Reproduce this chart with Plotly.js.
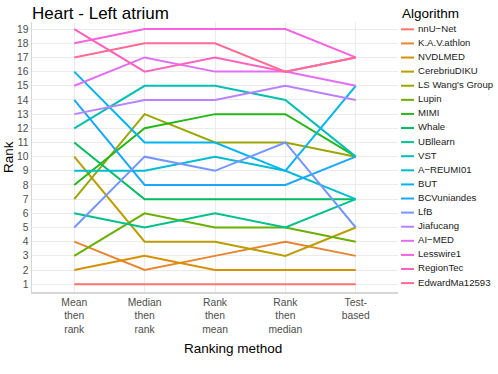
<!DOCTYPE html>
<html>
<head>
<meta charset="utf-8">
<script src="https://cdn.plot.ly/plotly-3.0.1.min.js"></script>
<style>
  html, body { margin: 0; padding: 0; background: #fff; }
  #chart { width: 498px; height: 374px; }
</style>
</head>
<body>
<div id="chart"></div>
<script>
// ranking methods (x categories) and their tick labels
const methods = ['Mean then rank', 'Median then rank', 'Rank then mean', 'Rank then median', 'Test-based'];
const methodLabels = ['Mean<br>then<br>rank', 'Median<br>then<br>rank', 'Rank<br>then<br>mean', 'Rank<br>then<br>median', 'Test-<br>based'];

const algorithms = ['nnU\u2212Net', 'K.A.V.athlon', 'NVDLMED', 'CerebriuDIKU', "LS Wang's Group", 'Lupin', 'MIMI',
  'Whale', 'UBllearn', 'VST', 'A\u2212REUMI01', 'BUT', 'BCVuniandes', 'LfB', 'Jiafucang', 'AI\u2212MED',
  'Lesswire1', 'RegionTec', 'EdwardMa12593'];

// rank of each algorithm under each method (same order as algorithms)
const meanThenRank   = [1, 4, 2, 10, 7, 3, 8, 11, 6, 12, 9, 16, 14, 5, 13, 15, 18, 19, 17];
const medianThenRank = [1, 2, 3, 4, 13, 6, 12, 7, 5, 15, 9, 11, 8, 10, 14, 17, 19, 16, 18];
const rankThenMean   = [1, 3, 2, 4, 11, 5, 13, 7, 6, 15, 10, 11, 8, 9, 14, 16, 19, 17, 18];
const rankThenMedian = [1, 4, 2, 3, 11, 5, 13, 7, 5, 14, 9, 9, 8, 11, 15, 16, 19, 16, 16];
const testBased      = [1, 3, 2, 5, 10, 4, 10, 7, 7, 10, 7, 15, 10, 5, 14, 15, 17, 17, 17];

// ggplot-like hue palette for 19 groups
const colors = ['#F8766D', '#E98430', '#D69100', '#BB9D00', '#9BA700', '#6BB000', '#27B719', '#00BC5F',
  '#00C08D', '#00C0B3', '#00BCD3', '#00B4EF', '#1AA8FD', '#7696FF', '#BA81FF', '#E06FF6',
  '#F763DF', '#FE62BF', '#FF6C93'];

const font = 'Liberation Sans, Arial, sans-serif';
const traces = [];

algorithms.forEach((name, i) => {
  traces.push({
    x: methods,
    y: [meanThenRank[i], medianThenRank[i], rankThenMean[i], rankThenMedian[i], testBased[i]],
    type: 'scatter',
    mode: 'lines',
    name: name,
    line: { color: colors[i], width: 2 },
    hoverinfo: 'skip',
    showlegend: false
  });
});

// hand-made legend on its own small axis so the key spacing matches
algorithms.forEach((name, i) => {
  traces.push({
    x: [1, 14],
    y: [i, i],
    xaxis: 'x2',
    yaxis: 'y2',
    type: 'scatter',
    mode: 'lines',
    line: { color: colors[i], width: 2 },
    hoverinfo: 'skip',
    showlegend: false
  });
});
traces.push({
  x: algorithms.map(() => 18),
  y: algorithms.map((_, i) => i),
  xaxis: 'x2',
  yaxis: 'y2',
  type: 'scatter',
  mode: 'text',
  text: algorithms,
  textposition: 'middle right',
  textfont: { family: font, size: 9.6, color: '#1a1a1a' },
  cliponaxis: false,
  hoverinfo: 'skip',
  showlegend: false
});

const layout = {
  width: 498,
  height: 374,
  margin: { l: 32, r: 0, t: 22, b: 82 },
  paper_bgcolor: '#ffffff',
  plot_bgcolor: '#ffffff',
  showlegend: false,
  font: { family: font },
  title: {
    text: 'Heart - Left atrium',
    font: { family: font, size: 17, color: '#000000' },
    x: 0, xref: 'paper', xanchor: 'left',
    y: 0.966, yref: 'container', yanchor: 'middle'
  },
  xaxis: {
    domain: [0, 366 / 466],
    type: 'category',
    range: [-0.6, 4.6],
    tickvals: methods,
    ticktext: methodLabels,
    tickfont: { family: font, size: 10.3, color: '#4d4d4d' },
    showgrid: true,
    gridcolor: '#ebebeb',
    gridwidth: 1,
    showline: true,
    linecolor: '#d6d6d6',
    linewidth: 1.5,
    zeroline: false,
    ticks: '',
    fixedrange: true
  },
  yaxis: {
    range: [0.45, 19.5],
    tickvals: Array.from({ length: 19 }, (_, i) => i + 1),
    tickfont: { family: font, size: 10.3, color: '#4d4d4d' },
    showgrid: true,
    gridcolor: '#ebebeb',
    gridwidth: 1,
    showline: true,
    linecolor: '#d6d6d6',
    linewidth: 1.5,
    zeroline: false,
    ticks: '',
    fixedrange: true
  },
  xaxis2: {
    domain: [368 / 466, 1],
    range: [0, 98],
    anchor: 'y2',
    visible: false,
    fixedrange: true
  },
  yaxis2: {
    domain: [0, 1],
    range: [18.63, -0.52],
    anchor: 'x2',
    visible: false,
    fixedrange: true
  },
  annotations: [
    {
      text: 'Ranking method',
      xref: 'paper', yref: 'paper',
      x: (233 - 32) / 466, y: -(348 - 292) / 270,
      xanchor: 'center', yanchor: 'middle',
      showarrow: false,
      font: { family: font, size: 13.5, color: '#000000' }
    },
    {
      text: 'Rank',
      xref: 'paper', yref: 'paper',
      x: (8 - 32) / 466, y: (292 - 157) / 270,
      xanchor: 'center', yanchor: 'middle',
      textangle: -90,
      showarrow: false,
      font: { family: font, size: 13.5, color: '#000000' }
    },
    {
      text: 'Algorithm',
      xref: 'paper', yref: 'paper',
      x: 368 / 466, y: 1 + (22 - 13.3) / 270,
      xanchor: 'left', yanchor: 'middle',
      showarrow: false,
      font: { family: font, size: 13.5, color: '#000000' }
    }
  ]
};

Plotly.newPlot('chart', traces, layout, { displayModeBar: false, staticPlot: true });
</script>
</body>
</html>
